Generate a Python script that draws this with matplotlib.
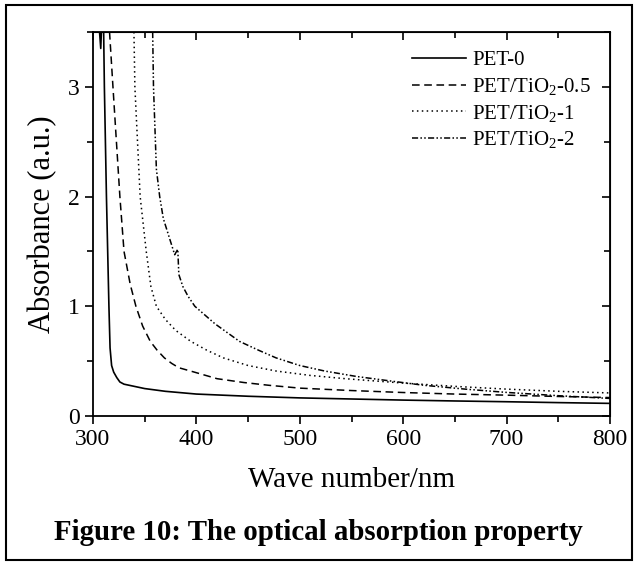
import matplotlib
matplotlib.use('Agg')
import matplotlib.pyplot as plt
from matplotlib.patches import Rectangle
from matplotlib.ticker import MultipleLocator

plt.rcParams['font.family'] = 'Liberation Serif'
plt.rcParams['mathtext.fontset'] = 'custom'
plt.rcParams['mathtext.rm'] = 'Liberation Serif'
plt.rcParams['mathtext.it'] = 'Liberation Serif:italic'

# absorbance curves
pet0_x = [304, 307.5, 308.5, 310.3, 311, 313, 315.4, 316.5, 318, 320, 323, 326, 330, 340, 350, 370, 400, 450, 500, 550, 600, 650, 700, 750, 800]
pet0_y = [3.8, 3.35, 3.6, 3.5, 3.0, 2.0, 1.0, 0.62, 0.46, 0.4, 0.35, 0.31, 0.29, 0.27, 0.25, 0.225, 0.2, 0.18, 0.165, 0.155, 0.145, 0.137, 0.13, 0.122, 0.115]

tio05_x = [316, 319.3, 326, 330, 336, 341.5, 348, 355.4, 362, 369, 376, 383, 398, 420, 446, 470, 500, 550, 600, 650, 700, 750, 800]
tio05_y = [3.5, 3.0, 2.0, 1.5, 1.2, 1.0, 0.82, 0.68, 0.6, 0.53, 0.48, 0.44, 0.40, 0.34, 0.305, 0.28, 0.254, 0.232, 0.214, 0.2, 0.19, 0.178, 0.168]

tio1_x = [339.6, 340.5, 345.6, 351.5, 356, 361.3, 370, 380, 394.6, 410, 426, 450, 477, 510, 544, 600, 650, 700, 750, 800]
tio1_y = [3.5, 3.0, 2.0, 1.5, 1.18, 1.0, 0.88, 0.78, 0.68, 0.6, 0.53, 0.46, 0.41, 0.37, 0.34, 0.30, 0.27, 0.245, 0.225, 0.21]

tio2_x = [357.7, 358.5, 361.3, 364.5, 368, 373, 379, 382, 383, 386.9, 392, 398.5, 418, 441.7, 460, 477, 500, 524, 555, 587, 620, 660, 700, 750, 800]
tio2_y = [3.5, 3.0, 2.25, 2.0, 1.8, 1.65, 1.47, 1.52, 1.29, 1.18, 1.09, 1.0, 0.84, 0.68, 0.6, 0.53, 0.46, 0.41, 0.36, 0.32, 0.28, 0.245, 0.215, 0.185, 0.16]

labels = ['PET-0', 'PET/TiO$_2$-0.5', 'PET/TiO$_2$-1', 'PET/TiO$_2$-2']

fig = plt.figure(figsize=(6.37, 5.64), dpi=100)
fig.patches.append(Rectangle((6/637, 4/564), 626/637, 555/564, transform=fig.transFigure,
                             fill=False, edgecolor='black', linewidth=1.5))
ax = fig.add_axes([93/637, (564-416)/564, (610-93)/637, (416-32)/564])

ax.plot(pet0_x, pet0_y, '-', color='black', lw=1.2, label=labels[0])
ax.plot(tio05_x, tio05_y, color='black', lw=1.1, linestyle=(0, (5, 3)), label=labels[1])
ax.plot(tio1_x, tio1_y, color='black', lw=1.1, linestyle=(0, (1, 2.2)), label=labels[2])
ax.plot(tio2_x, tio2_y, color='black', lw=1.1, linestyle=(0, (4, 1.5, 1, 1.5, 1, 1.5)), label=labels[3])

ax.set_xlim(300, 800)
ax.set_ylim(0, 3.5)
ax.xaxis.set_major_locator(MultipleLocator(100))
ax.xaxis.set_minor_locator(MultipleLocator(50))
ax.yaxis.set_major_locator(MultipleLocator(1))
ax.yaxis.set_minor_locator(MultipleLocator(0.5))
ax.tick_params(which='both', direction='out', labelsize=17, width=1.2)
ax.tick_params(which='major', length=6)
ax.tick_params(which='minor', length=4)
for s in ax.spines.values():
    s.set_linewidth(1.3)

# inward ticks on top and right, no labels
top = ax.secondary_xaxis('top')
top.xaxis.set_major_locator(MultipleLocator(100))
top.xaxis.set_minor_locator(MultipleLocator(50))
top.tick_params(which='both', direction='in', labeltop=False, width=1.2)
top.tick_params(which='major', length=6)
top.tick_params(which='minor', length=4)
right = ax.secondary_yaxis('right')
right.yaxis.set_major_locator(MultipleLocator(1))
right.yaxis.set_minor_locator(MultipleLocator(0.5))
right.tick_params(which='both', direction='in', labelright=False, width=1.2)
right.tick_params(which='major', length=6)
right.tick_params(which='minor', length=4)

ax.set_xlabel('Wave number/nm', fontsize=21, labelpad=12)
ax.set_ylabel('Absorbance (a.u.)', fontsize=22, labelpad=8)

ax.legend(loc='upper right', frameon=False, fontsize=15, handlelength=2.6,
          handletextpad=0.3, labelspacing=0.27, bbox_to_anchor=(1.0, 1.0))

fig.text(0.5, 31/564, 'Figure 10: The optical absorption property', ha='center', va='center',
         fontsize=20.8, fontweight='bold')

fig.savefig('out.png', dpi=100)
